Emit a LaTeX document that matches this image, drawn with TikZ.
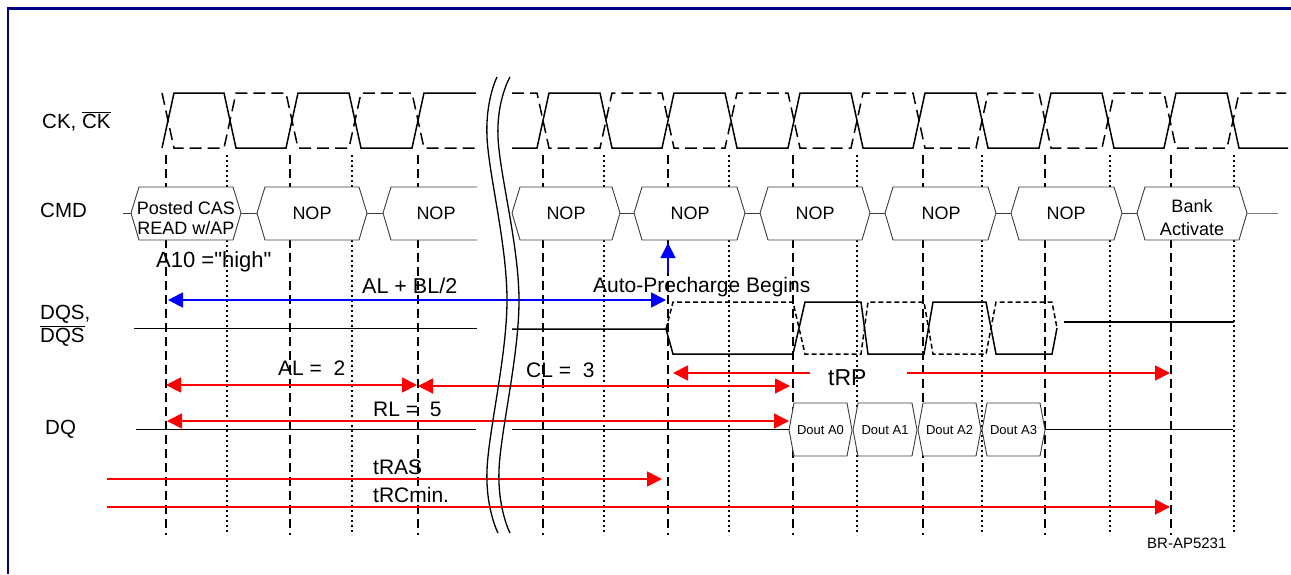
\documentclass[tikz,border=0pt]{standalone}
\usepackage{fontspec}
\setmainfont{Liberation Sans}
\newfontfamily\rawfont{Liberation Sans}[Ligatures=TeXOff]
\usetikzlibrary{arrows.meta}
\definecolor{navy}{RGB}{0,0,128}
\definecolor{boxgray}{RGB}{60,60,60}
\definecolor{ared}{RGB}{255,0,0}
\definecolor{ablue}{RGB}{0,0,255}
\newcommand{\cmdhex}[2]{\draw[cmdbox] (#1,213) -- (#1+8,187) -- (#2-8,187) -- (#2,213) -- (#2-8,240) -- (#1+8,240) -- cycle;}
\newcommand{\douthex}[2]{\draw[cmdbox] (#1,430) -- (#1+5,403) -- (#2-5,403) -- (#2,430) -- (#2-5,456) -- (#1+5,456) -- cycle;}
\begin{document}
\begin{tikzpicture}[x=1pt,y=-1pt,
  wave/.style={line width=1.5pt, line join=miter},
  wavedash/.style={wave, dash pattern=on 12pt off 6pt},
  dqsdash/.style={wave, dash pattern=on 5pt off 3pt},
  guideA/.style={line width=1.1pt, dash pattern=on 9pt off 5pt},
  guideB/.style={line width=1.1pt, dash pattern=on 2pt off 3pt},
  cmdbox/.style={draw=boxgray, line width=0.9pt, fill=white},
  stub/.style={draw=boxgray, line width=0.9pt},
  thinline/.style={line width=1pt},
  lbl/.style={inner sep=0pt, anchor=base west, font=\fontsize{20.5}{24}\selectfont},
  ann/.style={inner sep=0pt, anchor=base west, font=\fontsize{21}{24}\selectfont},
  boxtxt/.style={inner sep=0pt, font=\fontsize{18}{20}\selectfont},
  douttxt/.style={inner sep=0pt, font=\fontsize{13}{15}\selectfont},
  redarr/.style={draw=ared, line width=1.8pt, -{Triangle[length=15pt,width=15pt]}},
  redarr2/.style={draw=ared, line width=1.8pt, {Triangle[length=15pt,width=15pt]}-{Triangle[length=15pt,width=15pt]}},
  redarrL/.style={draw=ared, line width=1.8pt, {Triangle[length=15pt,width=15pt]}-},
  bluearr2/.style={draw=ablue, line width=1.8pt, {Triangle[length=15pt,width=15pt]}-{Triangle[length=15pt,width=15pt]}},
  bluearr/.style={draw=ablue, line width=1.8pt, -{Triangle[length=15pt,width=15pt]}},
  breakline/.style={line width=1.3pt}
]
\useasboundingbox (0,0) rectangle (1291,574);
% frame
\draw[navy, line width=2.2pt] (8,574) -- (8,8.5) -- (1291,8.5);

% guides
\foreach \x in {166,290,418,543,668,793,923,1045,1171}
  \draw[guideA] (\x,155) -- (\x,535);
\foreach \x in {227,352,604,729,857,982,1110,1234}
  \draw[guideB] (\x,155) -- (\x,535);

% labels
\node[lbl] (lck) at (42,128) {CK, $\overline{\mbox{CK}}$};
\node[lbl] (lcmd) at (40,217) {CMD};
\node[lbl] (ldqs1) at (40,319) {DQS,};
\node[lbl] (ldqs2) at (40,342) {$\overline{\mbox{DQS}}$};
\node[lbl] (ldq) at (45,434) {DQ};

% clock left
\draw[wave] (162,148) -- (174,93) -- (224,93) -- (236,148) -- (286,148) -- (298,93) -- (349,93) -- (361,148) -- (412,148) -- (424,93) -- (476,93);
\draw[wavedash] (162,93) -- (174,148) -- (224,148) -- (236,93) -- (286,93) -- (298,148) -- (349,148) -- (361,93) -- (412,93) -- (424,148) -- (476,148);
% clock right
\draw[wave] (512,148) -- (537,148) -- (549,93) -- (600,93) -- (612,148) -- (662,148) -- (674,93) -- (725,93) -- (737,148) -- (788,148) -- (800,93) -- (851,93) -- (863,148) -- (913,148) -- (925,93) -- (976,93) -- (988,148) -- (1039,148) -- (1051,93) -- (1102,93) -- (1114,148) -- (1164,148) -- (1176,93) -- (1227,93) -- (1239,148) -- (1288,148);
\draw[wavedash] (512,93) -- (537,93) -- (549,148) -- (600,148) -- (612,93) -- (662,93) -- (674,148) -- (725,148) -- (737,93) -- (788,93) -- (800,148) -- (851,148) -- (863,93) -- (913,93) -- (925,148) -- (976,148) -- (988,93) -- (1039,93) -- (1051,148) -- (1102,148) -- (1114,93) -- (1164,93) -- (1176,148) -- (1227,148) -- (1239,93) -- (1286,93);

% CMD row
\draw[stub] (123,213) -- (131,213);
\cmdhex{131}{241}
\draw[stub] (241,213) -- (257,213);
\cmdhex{257}{367}
\draw[stub] (367,213) -- (383,213);
\draw[cmdbox] (477,187) -- (391,187) -- (383,213) -- (391,240) -- (477,240);
\cmdhex{512}{620}
\draw[stub] (620,213) -- (634,213);
\cmdhex{634}{745}
\draw[stub] (745,213) -- (760,213);
\cmdhex{760}{870}
\draw[stub] (870,213) -- (885,213);
\cmdhex{885}{996}
\draw[stub] (996,213) -- (1011,213);
\cmdhex{1011}{1122}
\draw[stub] (1122,213) -- (1137,213);
\cmdhex{1137}{1247}
\draw[draw=gray, line width=0.9pt] (1247,213) -- (1278,213);

\node[boxtxt, anchor=base] (cas1) at (186,214.5) {Posted CAS};
\node[boxtxt, anchor=base] (cas2) at (186,234.5) {READ w/AP};
\node[boxtxt] (n1) at (312,213) {NOP};
\node[boxtxt] (n2) at (436,213) {NOP};
\node[boxtxt] (n3) at (566,213) {NOP};
\node[boxtxt] (n4) at (690,213) {NOP};
\node[boxtxt] (n5) at (815,213) {NOP};
\node[boxtxt] (n6) at (941,213) {NOP};
\node[boxtxt] (n7) at (1066,213) {NOP};
\node[boxtxt, anchor=base] (ba1) at (1192,212) {Bank};
\node[boxtxt, anchor=base] (ba2) at (1192,235) {Activate};

\node[ann, font=\rawfont\fontsize{22}{25}\selectfont] (a10) at (156,267) {A10 ="high"};

% DQS row
\draw[thinline] (134,328) -- (477,328);
\draw[wave] (512,329) -- (666,329) -- (673,354) -- (793,354) -- (805,302) -- (861,302) -- (868,354) -- (924,354) -- (933,302) -- (986,302) -- (996,354) -- (1052,354) -- (1057,328);
\draw[dqsdash] (666,329) -- (673,302) -- (793,302) -- (805,354) -- (861,354) -- (868,302) -- (924,302) -- (933,354) -- (986,354) -- (996,302) -- (1052,302) -- (1057,328);
\draw[wave] (1064,322) -- (1234,322);

% DQ row
\draw[thinline] (136,429) -- (476,429);
\draw[thinline] (512,429) -- (789,429);
\draw[thinline] (1045,429) -- (1233,429);
\douthex{789}{852}
\douthex{853}{917}
\douthex{918}{981}
\douthex{982}{1045}
\node[douttxt] (d0) at (820.5,430) {Dout A0};
\node[douttxt] (d1) at (885,430) {Dout A1};
\node[douttxt] (d2) at (949.5,430) {Dout A2};
\node[douttxt] (d3) at (1013.5,430) {Dout A3};

% annotations
\node[ann, font=\fontsize{21.5}{25}\selectfont] (albl) at (362,293) {AL + BL/2};
\node[ann] (apb) at (593,292) {Auto-Precharge Begins};
\node[ann] (al2) at (278,375) {AL =\ \ 2};
\node[ann] (cl3) at (526,377) {CL =\ \ 3};
\node[ann, font=\fontsize{23}{26}\selectfont] (trp) at (828,385) {tRP};
\node[ann] (rl5) at (373,416) {RL =\ \ 5};
\node[ann] (tras) at (373,474) {tRAS};
\node[ann] (trc) at (373,502) {tRCmin.};
\node[inner sep=0pt, anchor=base west, font=\fontsize{15}{17}\selectfont] (brap) at (1147,548) {BR-AP5231};

% arrow end points
\coordinate (bA) at (168,300); \coordinate (bB) at (666,300);
\coordinate (uA) at (668,273); \coordinate (uB) at (668,243);
\coordinate (alA) at (166,385); \coordinate (alB) at (417,385);
\coordinate (clA) at (418,386); \coordinate (clB) at (790,386);
\coordinate (rpA) at (673,373); \coordinate (rpB) at (810,373);
\coordinate (rpC) at (907,373); \coordinate (rpD) at (1170,373);
\coordinate (rlA) at (167,421); \coordinate (rlB) at (789,421);
\coordinate (raA) at (107,479); \coordinate (raB) at (662,479);
\coordinate (rcA) at (107,507); \coordinate (rcB) at (1170,507);

\draw[bluearr2] (bA) -- (bB);
\draw[bluearr] (uA) -- (uB);
\draw[redarr2] (alA) -- (alB);
\draw[redarr2] (clA) -- (clB);
\draw[redarrL] (rpA) -- (rpB);
\draw[redarr] (rpC) -- (rpD);
\draw[redarr2] (rlA) -- (rlB);
\draw[redarr] (raA) -- (raB);
\draw[redarr] (rcA) -- (rcB);

% break
\draw[breakline] plot[smooth, tension=0.6] coordinates {(497,77) (487,137) (507,300) (487,470) (498,533)};
\draw[breakline] plot[smooth, tension=0.6] coordinates {(510,77) (498,137) (519,300) (499,470) (510,533)};
\end{tikzpicture}
\end{document}
